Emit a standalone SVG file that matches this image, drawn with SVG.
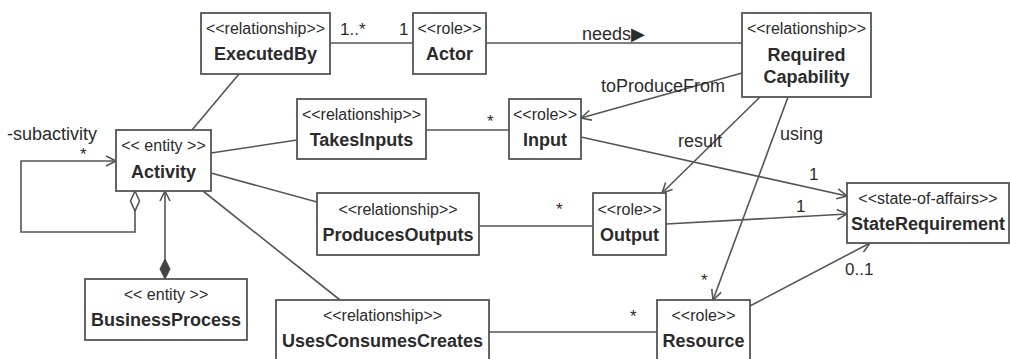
<svg xmlns="http://www.w3.org/2000/svg" width="1010" height="359" viewBox="0 0 1010 359">
<style>
.box{fill:#fff;stroke:#555;stroke-width:1.8}
.st{font-family:"Liberation Sans",Arial,sans-serif;font-size:16px;fill:#2b2b2b;text-anchor:middle}
.nm{font-family:"Liberation Sans",Arial,sans-serif;font-size:18px;font-weight:bold;fill:#2b2b2b;text-anchor:middle}
.lb{font-family:"Liberation Sans",Arial,sans-serif;font-size:18px;fill:#2b2b2b}
.ml{font-family:"Liberation Sans",Arial,sans-serif;font-size:17px;fill:#2b2b2b}
.ln{fill:none;stroke:#555;stroke-width:1.6}
</style>
<defs>
<marker id="arr" viewBox="0 0 12 12" refX="11" refY="6" markerWidth="12" markerHeight="12" orient="auto" markerUnits="userSpaceOnUse">
<path d="M1,1 L11,6 L1,11" fill="none" stroke="#555" stroke-width="1.6"/>
</marker>
<marker id="odia" viewBox="-1 -1 22 12" refX="0" refY="5" markerWidth="22" markerHeight="12" orient="auto" markerUnits="userSpaceOnUse">
<path d="M0,5 L10,0.5 L20,5 L10,9.5 Z" fill="#fff" stroke="#555" stroke-width="1.6"/>
</marker>
<marker id="fdia" viewBox="-1 -1 22 12" refX="0" refY="5" markerWidth="22" markerHeight="12" orient="auto" markerUnits="userSpaceOnUse">
<path d="M0,5 L10,0 L20,5 L10,10 Z" fill="#444" stroke="#444" stroke-width="1"/>
</marker>
</defs>

<g id="connectors">
<line class="ln" x1="239" y1="74" x2="192" y2="130"/>
<line class="ln" x1="330" y1="43" x2="413" y2="43"/>
<line class="ln" x1="486" y1="43" x2="742" y2="43"/>
<line class="ln" x1="742" y1="73" x2="581" y2="118" marker-end="url(#arr)"/>
<line class="ln" x1="211" y1="153" x2="297" y2="140"/>
<line class="ln" x1="426" y1="130" x2="509" y2="130"/>
<line class="ln" x1="581" y1="137" x2="847" y2="196" marker-end="url(#arr)"/>
<line class="ln" x1="760" y1="97" x2="662" y2="193" marker-end="url(#arr)"/>
<line class="ln" x1="788" y1="97" x2="713" y2="300" marker-end="url(#arr)"/>
<line class="ln" x1="211" y1="173" x2="317" y2="202"/>
<line class="ln" x1="479" y1="226" x2="593" y2="226"/>
<line class="ln" x1="666" y1="224" x2="847" y2="214" marker-end="url(#arr)"/>
<line class="ln" x1="203" y1="191" x2="340" y2="300"/>
<line class="ln" x1="489" y1="332" x2="657" y2="332"/>
<line class="ln" x1="750" y1="306" x2="870" y2="243" marker-end="url(#arr)"/>
<path class="ln" d="M135,191 L135,232 L21,232 L21,161 L116,161" marker-start="url(#odia)" marker-end="url(#arr)"/>
<path class="ln" d="M165,279 L165,191" marker-start="url(#fdia)" marker-end="url(#arr)"/>
<text class="ml" x="340" y="35">1..*</text>
<text class="ml" x="399" y="35">1</text>
<text class="lb" x="582" y="40">needs▶</text>
<text class="lb" x="601" y="92">toProduceFrom</text>
<text class="lb" x="678" y="147">result</text>
<text class="lb" x="780" y="140">using</text>
<text class="ml" x="809" y="180">1</text>
<text class="ml" x="796" y="212">1</text>
<text class="ml" x="845" y="275">0..1</text>
<text class="ml" x="701" y="286">*</text>
<text class="ml" x="487" y="127">*</text>
<text class="ml" x="556" y="215">*</text>
<text class="ml" x="630" y="322">*</text>
<text class="ml" x="80" y="160">*</text>
<text class="lb" x="7" y="140">-subactivity</text>
</g>

<g id="ExecutedBy">
<rect class="box" x="201" y="13" width="129" height="61"/>
<text class="st" x="265.5" y="34">&lt;&lt;relationship&gt;&gt;</text>
<text class="nm" x="265.5" y="60">ExecutedBy</text>
</g>
<g id="Actor">
<rect class="box" x="413" y="13" width="73" height="61"/>
<text class="st" x="449.5" y="34">&lt;&lt;role&gt;&gt;</text>
<text class="nm" x="449.5" y="60">Actor</text>
</g>
<g id="RequiredCapability">
<rect class="box" x="742" y="13" width="129" height="84"/>
<text class="st" x="806.5" y="34">&lt;&lt;relationship&gt;&gt;</text>
<text class="nm" x="806.5" y="61">Required</text>
<text class="nm" x="806.5" y="83">Capability</text>
</g>
<g id="TakesInputs">
<rect class="box" x="297" y="99" width="129" height="60"/>
<text class="st" x="361.5" y="120">&lt;&lt;relationship&gt;&gt;</text>
<text class="nm" x="361.5" y="146">TakesInputs</text>
</g>
<g id="Input">
<rect class="box" x="509" y="99" width="72" height="60"/>
<text class="st" x="545" y="120">&lt;&lt;role&gt;&gt;</text>
<text class="nm" x="545" y="146">Input</text>
</g>
<g id="Activity">
<rect class="box" x="116" y="130" width="95" height="61"/>
<text class="st" x="163.5" y="151">&lt;&lt; entity &gt;&gt;</text>
<text class="nm" x="163.5" y="178">Activity</text>
</g>
<g id="BusinessProcess">
<rect class="box" x="85" y="279" width="162" height="61"/>
<text class="st" x="166" y="300">&lt;&lt; entity &gt;&gt;</text>
<text class="nm" x="166" y="326">BusinessProcess</text>
</g>
<g id="ProducesOutputs">
<rect class="box" x="317" y="193" width="162" height="62"/>
<text class="st" x="398" y="215">&lt;&lt;relationship&gt;&gt;</text>
<text class="nm" x="398" y="241">ProducesOutputs</text>
</g>
<g id="Output">
<rect class="box" x="593" y="193" width="73" height="62"/>
<text class="st" x="629.5" y="215">&lt;&lt;role&gt;&gt;</text>
<text class="nm" x="629.5" y="241">Output</text>
</g>
<g id="UsesConsumesCreates">
<rect class="box" x="276" y="300" width="213" height="70"/>
<text class="st" x="382.5" y="321">&lt;&lt;relationship&gt;&gt;</text>
<text class="nm" x="382.5" y="347">UsesConsumesCreates</text>
</g>
<g id="Resource">
<rect class="box" x="657" y="300" width="93" height="70"/>
<text class="st" x="703.5" y="321">&lt;&lt;role&gt;&gt;</text>
<text class="nm" x="703.5" y="347">Resource</text>
</g>
<g id="StateRequirement">
<rect class="box" x="847" y="183" width="162" height="60"/>
<text class="st" x="928" y="204">&lt;&lt;state-of-affairs&gt;&gt;</text>
<text class="nm" x="928" y="230">StateRequirement</text>
</g>
</svg>
